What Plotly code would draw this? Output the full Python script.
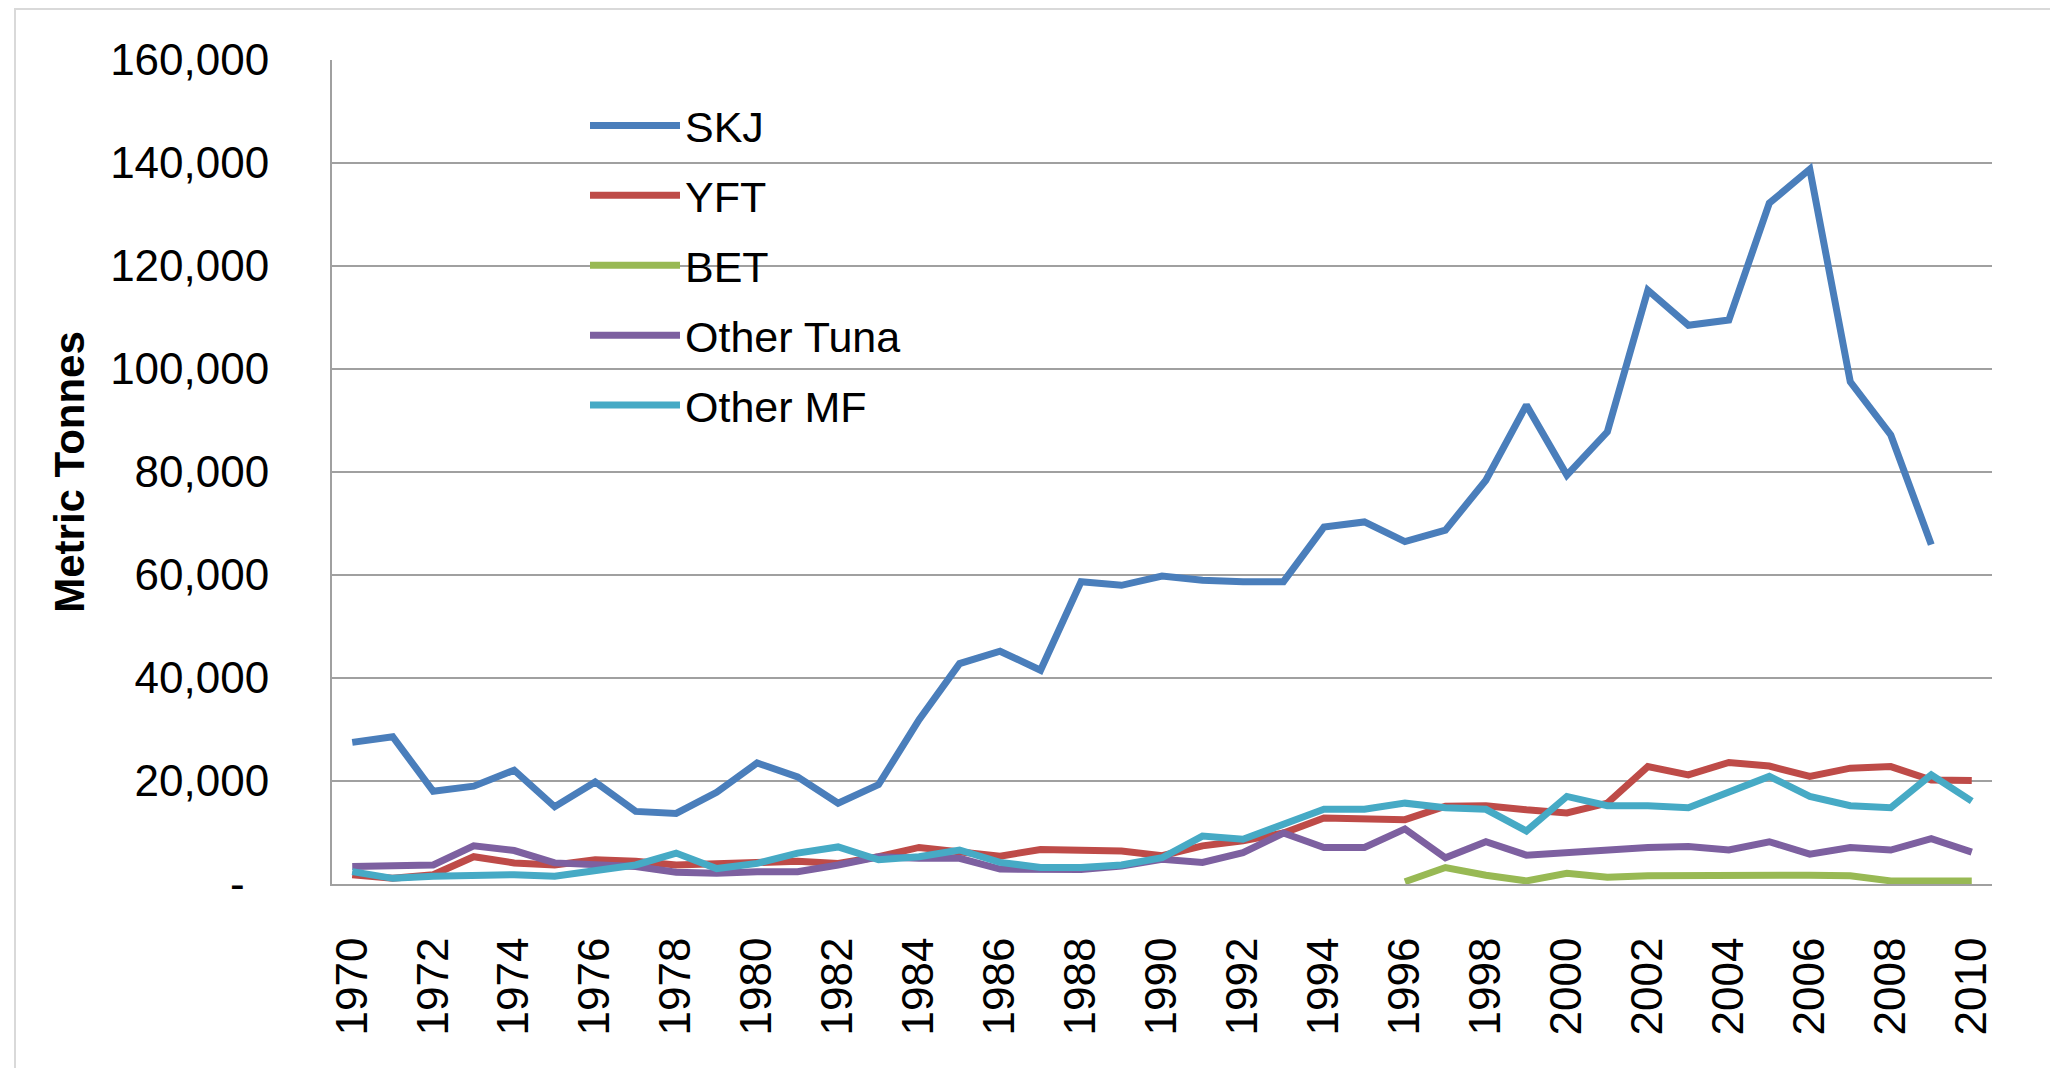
import plotly.graph_objects as go

years = [1970, 1971, 1972, 1973, 1974, 1975, 1976, 1977, 1978, 1979,
         1980, 1981, 1982, 1983, 1984, 1985, 1986, 1987, 1988, 1989,
         1990, 1991, 1992, 1993, 1994, 1995, 1996, 1997, 1998, 1999,
         2000, 2001, 2002, 2003, 2004, 2005, 2006, 2007, 2008, 2009, 2010]

skj = [27500, 28600, 18000, 19000, 22100, 15000, 19800, 14100, 13700, 17800,
       23500, 20800, 15700, 19300, 31900, 42800, 45200, 41500, 58700, 58000,
       59800, 59000, 58700, 58700, 69300, 70300, 66500, 68700, 78400, 93000,
       79400, 87800, 115300, 108500, 109500, 132200, 138800, 97500, 87200, 65900, None]

yft = [1800, 1100, 1800, 5300, 4100, 3700, 4700, 4400, 3700, 4000,
       4000, 4400, 4000, 5300, 7100, 6200, 5400, 6700, 6700, 6400,
       5500, 7400, 8400, 9900, 12800, 12500, 12500, 15100, 15200, 14400,
       13800, 15700, 22800, 21200, 23600, 22900, 20900, 22500, 22800, 20200, 20100]

bet = [None, None, None, None, None, None, None, None, None, None,
       None, None, None, None, None, None, None, None, None, None,
       None, None, None, None, None, None, 450, 3200, 1700, 600,
       2100, 1300, 1600, 1700, 1700, 1700, 1700, 1600, 600, 600, 600]

other_tuna = [3400, 3400, 3700, 7400, 6500, 4100, 3700, 3400, 2300, 2100,
              2400, 2400, 3700, 5300, 5000, 5000, 2900, 2900, 2800, 3500,
              4800, 4200, 6100, 9900, 7100, 7100, 10700, 5100, 8200, 5600,
              6200, 6600, 7100, 7300, 6600, 8200, 5800, 7100, 6600, 8800, 6200]

other_mf = [2400, 1100, 1500, 1800, 1800, 1500, 2700, 3700, 6000, 3000,
            4000, 6000, 7200, 4700, 5300, 6600, 4200, 3200, 3200, 3700,
            5100, 9300, 8700, 11600, 14500, 14500, 15700, 14800, 14500, 10300,
            17000, 15200, 15200, 14800, 17700, 20900, 17000, 15200, 14800, 21200, 16100]

series_names = ["SKJ", "YFT", "BET", "Other Tuna", "Other MF"]
series_colors = ["#4A7EBB", "#BE4B48", "#98B954", "#7D60A0", "#46AAC5"]

y_tick_vals = [0, 20000, 40000, 60000, 80000, 100000, 120000, 140000, 160000]
y_tick_text = ["-\u2007", "20,000", "40,000", "60,000", "80,000",
               "100,000", "120,000", "140,000", "160,000"]
x_tick_vals = [1970, 1972, 1974, 1976, 1978, 1980, 1982, 1984, 1986, 1988, 1990,
               1992, 1994, 1996, 1998, 2000, 2002, 2004, 2006, 2008, 2010]

FONT = "'Liberation Sans', Arial, sans-serif"
GRID = "#A0A0A0"

fig = go.Figure()
for name, vals, col in zip(series_names, [skj, yft, bet, other_tuna, other_mf], series_colors):
    fig.add_trace(go.Scatter(
        x=years, y=vals, name=name, mode="lines", legendgroup=name,
        line=dict(color=col, width=7), connectgaps=False,
    ))

# page body has an 8px default margin; figure sized to fit the window
OFF = 8
W, H = 2050, 1060
# plot area in page pixels: x 332..1992, y 60..884
L, R, T, B = 332 - OFF, OFF + W - 1992, 60 - OFF, OFF + H - 884
pw, ph = 1992 - 332, 884 - 60

def px2x(p):
    return (p - 332) / pw

def py2y(p):
    return (884 - p) / ph

shapes = [
    # chart-area border
    dict(type="rect", xref="paper", yref="paper",
         x0=px2x(15), x1=px2x(2075), y0=py2y(1080), y1=py2y(9),
         line=dict(color="#D9D9D9", width=2), fillcolor="rgba(0,0,0,0)", layer="below"),
    # legend box background (hides gridlines)
    dict(type="rect", xref="paper", yref="paper",
         x0=px2x(464), x1=px2x(1036), y0=py2y(430), y1=py2y(75),
         line=dict(width=0), fillcolor="white", layer="between"),
]

fig.update_layout(
    width=W, height=H,
    margin=dict(l=L, r=R, t=T, b=B, pad=0),
    paper_bgcolor="white", plot_bgcolor="white",
    font=dict(family=FONT, size=44, color="#000000"),
    showlegend=True,
    legend=dict(
        x=px2x(585), y=py2y(91), xanchor="left", yanchor="top",
        bgcolor="rgba(0,0,0,0)", borderwidth=0,
        font=dict(family=FONT, size=43, color="#000000"),
        tracegroupgap=11, itemwidth=90,
    ),
    shapes=shapes,
    xaxis=dict(
        range=[1969.5, 2010.5], tickmode="array", tickvals=x_tick_vals,
        tickangle=-90, showgrid=False, zeroline=False,
        showline=True, linecolor=GRID, linewidth=2,
        ticks="", ticklabelstandoff=34,
        tickfont=dict(family=FONT, size=44, color="#000000"),
    ),
    yaxis=dict(
        range=[0, 160000], tickmode="array", tickvals=y_tick_vals, ticktext=y_tick_text,
        showgrid=True, gridcolor=GRID, gridwidth=2, zeroline=False,
        showline=True, linecolor=GRID, linewidth=2,
        ticks="", ticklabelstandoff=52,
        tickfont=dict(family=FONT, size=44, color="#000000"),
        title=dict(text="<b>Metric Tonnes</b>", standoff=12,
                   font=dict(family=FONT, size=42, color="#000000")),
    ),
)

fig.write_html("out.html")
